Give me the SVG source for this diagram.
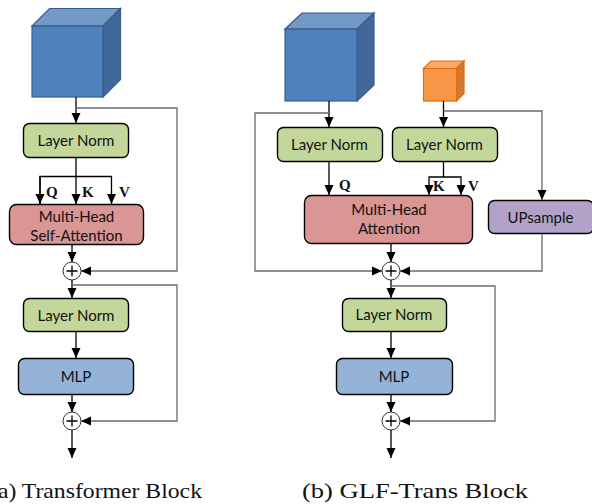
<svg xmlns="http://www.w3.org/2000/svg" width="592" height="504" viewBox="0 0 592 504">
  <defs>
    <marker id="arr" markerUnits="userSpaceOnUse" markerWidth="10" markerHeight="10" viewBox="0 0 10 10" refX="10" refY="5" orient="auto">
      <path d="M0,0.5 L10,5 L0,9.5 Z" fill="#000"/>
    </marker>
    <style>
      .box { stroke: #000; stroke-width: 1.4; }
      .ln { fill: #c4d79b; }
      .mha { fill: #d99694; }
      .mlp { fill: #95b3d7; }
      .up { fill: #b3a2c7; }
      .lbl { font-family: Lato, "Liberation Sans", sans-serif; font-size: 15px; fill: #111; text-anchor: middle; }
      .qkv { font-family: "Liberation Serif", serif; font-weight: bold; font-size: 15px; fill: #111; }
      .cap { font-family: "Liberation Serif", serif; font-size: 22px; fill: #111; }
      .flow { fill: none; stroke: #000; stroke-width: 1.3; }
      .skip { fill: none; stroke: #6a6a6a; stroke-width: 1.3; }
      .sum circle { fill: #fff; stroke: #333; stroke-width: 1; }
      .sum path { stroke: #000; stroke-width: 1.3; fill: none; }
    </style>
  </defs>

  <!-- (a) Transformer Block -->
  <g id="a-input">
    <path d="M32,26 L49.5,8.5 L120.5,8.5 L103,26 Z" fill="#7399c6" stroke="#385d8a" stroke-width="1.2"/>
    <path d="M103,26 L120.5,8.5 L120.5,79.5 L103,97 Z" fill="#41689a" stroke="#385d8a" stroke-width="1.2"/>
    <rect x="32" y="26" width="71" height="71" fill="#4f81bd" stroke="#385d8a" stroke-width="1.2"/>
  </g>
  <g id="a-norm1">
    <rect class="box ln" x="23.5" y="123.5" width="105" height="34" rx="6"/>
    <text class="lbl" x="76" y="146">Layer Norm</text>
  </g>
  <g id="a-attn">
    <rect class="box mha" x="9.5" y="204.5" width="134" height="40" rx="7"/>
    <text class="lbl" x="76.5" y="222">Multi-Head</text>
    <text class="lbl" x="76.5" y="241">Self-Attention</text>
  </g>
  <g id="a-sum1" class="sum">
    <circle cx="72" cy="271" r="9"/>
    <path d="M66.5,271 H77.5 M72,265.5 V276.5"/>
  </g>
  <g id="a-norm2">
    <rect class="box ln" x="23.5" y="298.5" width="105" height="33" rx="6"/>
    <text class="lbl" x="76" y="320.5">Layer Norm</text>
  </g>
  <g id="a-mlp">
    <rect class="box mlp" x="18.5" y="358.5" width="115" height="36" rx="6"/>
    <text class="lbl" x="76" y="382">MLP</text>
  </g>
  <g id="a-sum2" class="sum">
    <circle cx="72" cy="421" r="9"/>
    <path d="M66.5,421 H77.5 M72,415.5 V426.5"/>
  </g>
  <text class="cap" x="-10" y="498" textLength="212" lengthAdjust="spacingAndGlyphs">(a) Transformer Block</text>

  <!-- (b) GLF-Trans Block -->
  <g id="b-global">
    <path d="M285,29 L302,13 L374,13 L357,29 Z" fill="#7399c6" stroke="#385d8a" stroke-width="1.2"/>
    <path d="M357,29 L374,13 L374,85 L357,101 Z" fill="#41689a" stroke="#385d8a" stroke-width="1.2"/>
    <rect x="285" y="29" width="72" height="72" fill="#4f81bd" stroke="#385d8a" stroke-width="1.2"/>
  </g>
  <g id="b-local">
    <path d="M423.5,68.5 L431,61 L464,61 L456.5,68.5 Z" fill="#f9ab6b" stroke="#e46c0a" stroke-width="1.2"/>
    <path d="M456.5,68.5 L464,61 L464,93.5 L456.5,101 Z" fill="#d27a32" stroke="#e46c0a" stroke-width="1.2"/>
    <rect x="423.5" y="68.5" width="33" height="32.5" fill="#f79646" stroke="#e46c0a" stroke-width="1.2"/>
  </g>
  <g id="b-norm-q">
    <rect class="box ln" x="277.5" y="127.5" width="105" height="34" rx="6"/>
    <text class="lbl" x="329.5" y="150">Layer Norm</text>
  </g>
  <g id="b-norm-kv">
    <rect class="box ln" x="392.5" y="127.5" width="105" height="34" rx="6"/>
    <text class="lbl" x="444.5" y="150">Layer Norm</text>
  </g>
  <g id="b-attn">
    <rect class="box mha" x="304.5" y="195.5" width="168" height="48" rx="7"/>
    <text class="lbl" x="389" y="215">Multi-Head</text>
    <text class="lbl" x="389" y="234">Attention</text>
  </g>
  <g id="b-upsample">
    <rect class="box up" x="488.5" y="200.5" width="105" height="33" rx="6"/>
    <text class="lbl" x="540.5" y="223">UPsample</text>
  </g>
  <g id="b-sum1" class="sum">
    <circle cx="391" cy="271" r="9"/>
    <path d="M385.5,271 H396.5 M391,265.5 V276.5"/>
  </g>
  <g id="b-norm2">
    <rect class="box ln" x="342.5" y="298.5" width="104" height="33" rx="6"/>
    <text class="lbl" x="394" y="320">Layer Norm</text>
  </g>
  <g id="b-mlp">
    <rect class="box mlp" x="336.5" y="358.5" width="116" height="36" rx="6"/>
    <text class="lbl" x="394" y="382">MLP</text>
  </g>
  <g id="b-sum2" class="sum">
    <circle cx="391" cy="421" r="9"/>
    <path d="M385.5,421 H396.5 M391,415.5 V426.5"/>
  </g>
  <text class="cap" x="302" y="498" textLength="226" lengthAdjust="spacingAndGlyphs">(b) GLF-Trans Block</text>

  <!-- connectors -->
  <g id="connectors">
    <!-- (a) main path -->
    <path class="flow" d="M76,97 V123" marker-end="url(#arr)"/>
    <path class="flow" d="M76,157.5 V204" marker-end="url(#arr)"/>
    <path class="flow" d="M40,204 V176.5 H111.5 V204" marker-end="url(#arr)"/>
    <path class="flow" d="M40,176.5 V204" marker-end="url(#arr)"/>
    <path class="flow" d="M72,245 V262" marker-end="url(#arr)"/>
    <path class="flow" d="M72,280 V298" marker-end="url(#arr)"/>
    <path class="flow" d="M76,332 V358" marker-end="url(#arr)"/>
    <path class="flow" d="M72,395 V412" marker-end="url(#arr)"/>
    <path class="flow" d="M72,430 V458" marker-end="url(#arr)"/>
    <!-- (a) residual paths -->
    <path class="skip" d="M76,108 H177 V271 H81" marker-end="url(#arr)"/>
    <path class="skip" d="M72,285 H177 V421 H81" marker-end="url(#arr)"/>

    <!-- (b) main path -->
    <path class="flow" d="M329,101 V127" marker-end="url(#arr)"/>
    <path class="flow" d="M443.5,101 V127" marker-end="url(#arr)"/>
    <path class="flow" d="M329,162 V195" marker-end="url(#arr)"/>
    <path class="flow" d="M443.5,162 V177 H429 V195" marker-end="url(#arr)"/>
    <path class="flow" d="M443.5,177 H461 V195" marker-end="url(#arr)"/>
    <path class="flow" d="M391,244 V262" marker-end="url(#arr)"/>
    <path class="flow" d="M391,280 V298" marker-end="url(#arr)"/>
    <path class="flow" d="M391,332 V358" marker-end="url(#arr)"/>
    <path class="flow" d="M391,395 V412" marker-end="url(#arr)"/>
    <path class="flow" d="M391,430 V458" marker-end="url(#arr)"/>
    <!-- (b) side paths -->
    <path class="skip" d="M329,113 H255 V271 H382" marker-end="url(#arr)"/>
    <path class="skip" d="M443.5,111 H542 V200" marker-end="url(#arr)"/>
    <path class="skip" d="M542,234 V271 H400" marker-end="url(#arr)"/>
    <path class="skip" d="M391,286 H495 V421 H400" marker-end="url(#arr)"/>

    <!-- labels -->
    <text class="qkv" x="46" y="197">Q</text>
    <text class="qkv" x="82" y="197">K</text>
    <text class="qkv" x="119" y="197">V</text>
    <text class="qkv" x="339" y="190">Q</text>
    <text class="qkv" x="433" y="191">K</text>
    <text class="qkv" x="468" y="191">V</text>
  </g>
</svg>
